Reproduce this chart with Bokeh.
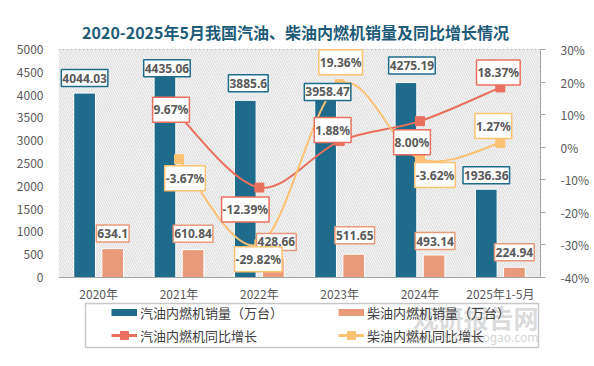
from bokeh.plotting import figure
from bokeh.models import (Range1d, LinearAxis, ColumnDataSource, Label, Legend, LegendItem,
                          FixedTicker, BoxAnnotation, PrintfTickFormatter, Span)
from bokeh.core.properties import value
from bokeh.embed import file_html
from bokeh.resources import INLINE

# ---------------- data ----------------
years = ["2020年", "2021年", "2022年", "2023年", "2024年", "2025年1-5月"]
gasoline_sales = [4044.03, 4435.06, 3885.6, 3958.47, 4275.19, 1936.36]
diesel_sales = [634.1, 610.84, 428.66, 511.65, 493.14, 224.94]
yoy_years = ["2021年", "2022年", "2023年", "2024年", "2025年1-5月"]
gasoline_yoy = [9.67, -12.39, 1.88, 8.00, 18.37]
diesel_yoy = [-3.67, -29.82, 19.36, -3.62, 1.27]
left_ticks = [0, 500, 1000, 1500, 2000, 2500, 3000, 3500, 4000, 4500, 5000]
right_ticks = [-40, -30, -20, -10, 0, 10, 20, 30]
title_text = "2020-2025年5月我国汽油、柴油内燃机销量及同比增长情况"

# ---------------- layout / styles ----------------
W, H = 594, 366
FRAME_L, FRAME_R = 58, 540               # pixel columns of the frame
PLOT_TOP, PLOT_BOTTOM = 49, 277          # pixel rows of the value axes' ends
L_MIN, L_MAX = left_ticks[0], left_ticks[-1]
R_MIN, R_MAX = right_ticks[0], right_ticks[-1]
C_BLUE = "#1F6B8B"
C_ORANGE = "#E99A7A"
C_RED = "#E9705E"
C_YELLOW = "#FDC173"
C_TEXT = "#595959"
FONT = "Noto Sans CJK SC"
BAR_W = 0.27
BAR_SHIFT = 0.175
# label offsets in screen pixels (x right, y up)
blue_dx = [0, 2, 3, 2, 6, 0]
blue_dy = [15, 7, 17, 5, 17, 14]
orange_dx = [0, 0, 3, 1, 1, 0]
orange_dy = [15, 16, 16, 19, 14, 15]
red_dx = [-8, -14, -7, -8, -2]
red_dy = [6, -22, 11, -21, 15]
yel_dx = [6, -1, 1, 15, -7]
yel_dy = [-19, -15, 22, -16, 17]

xi = {y: i for i, y in enumerate(years)}
x_idx = [xi[y] for y in years]
x_yoy = [xi[y] for y in yoy_years]
X_LO, X_HI = -0.5, len(years) - 0.5


def extended(lo, hi):
    ppu = (PLOT_BOTTOM - PLOT_TOP) / (hi - lo)
    return Range1d(lo - (H - PLOT_BOTTOM) / ppu, hi + PLOT_TOP / ppu)


def px_x(px):   # page pixel column -> x data
    return X_LO + (px - FRAME_L) * (X_HI - X_LO) / (FRAME_R - FRAME_L)


def px_y(py):   # page pixel row -> left-axis data
    return L_MIN + (PLOT_BOTTOM - py) * (L_MAX - L_MIN) / (PLOT_BOTTOM - PLOT_TOP)


p = figure(width=W, height=H, x_range=Range1d(X_LO, X_HI), y_range=extended(L_MIN, L_MAX),
           output_backend="svg", toolbar_location=None, x_axis_location=None,
           min_border_left=FRAME_L, min_border_right=W - FRAME_R, min_border_top=0, min_border_bottom=0)
p.extra_y_ranges = {"pct": extended(R_MIN, R_MAX)}
p.xgrid.visible = False
p.ygrid.visible = False
p.outline_line_color = None
p.background_fill_color = "white"
p.border_fill_color = "white"

# hatched plot area
p.add_layout(BoxAnnotation(bottom=L_MIN, top=L_MAX, fill_alpha=0, line_color=None,
                           hatch_pattern="left_diagonal_line", hatch_color="#D4D4D4",
                           hatch_scale=4.5, hatch_weight=1, level="underlay"))
p.add_layout(Span(location=L_MAX, dimension="width", line_color="#BFBFBF", line_dash="2 2", line_width=1))
p.add_layout(Span(location=L_MIN, dimension="width", line_color="#A6A6A6", line_width=1))

# axes
ya = p.yaxis[0]
ya.ticker = FixedTicker(ticks=left_ticks)
ya.axis_line_color = None
ya.major_tick_line_color = None
ya.minor_tick_line_color = None
ya.major_tick_out = 0
ya.major_label_standoff = 15
ya.major_label_text_font = FONT
ya.major_label_text_font_size = "12px"
ya.major_label_text_color = C_TEXT

ra = LinearAxis(y_range_name="pct", ticker=FixedTicker(ticks=right_ticks),
                formatter=PrintfTickFormatter(format="%d%%"), bounds=(R_MIN, R_MAX))
ra.axis_line_color = "#A6A6A6"
ra.major_tick_line_color = "#A6A6A6"
ra.major_tick_out = 5
ra.major_tick_in = 0
ra.minor_tick_line_color = None
ra.major_label_standoff = 15
ra.major_label_text_align = "center"
ra.major_label_text_font = FONT
ra.major_label_text_font_size = "12px"
ra.major_label_text_color = C_TEXT
p.add_layout(ra, "right")

# category labels under the base line
p.text(x=x_idx, y=[L_MIN] * len(x_idx), text=years, y_offset=16, text_align="center",
       text_baseline="middle", text_font=value(FONT), text_font_size="12px", text_color=C_TEXT)

# legend frame (page pixels converted to data units)
p.quad(left=[px_x(85)], right=[px_x(538)], top=[px_y(303)], bottom=[px_y(347)],
       fill_alpha=0, line_color="#C8C8C8", line_width=1.5)

# bars
bsrc = ColumnDataSource(dict(
    xb=[x - BAR_SHIFT for x in x_idx], xo=[x + BAR_SHIFT for x in x_idx],
    gas=gasoline_sales, die=diesel_sales))
p.vbar(x="xb", top="gas", bottom=L_MIN, width=BAR_W, source=bsrc, fill_color=C_BLUE,
       line_color="white", line_width=1)
p.vbar(x="xo", top="die", bottom=L_MIN, width=BAR_W, source=bsrc, fill_color=C_ORANGE,
       line_color="white", line_width=1)


def smooth(xs, ys):
    n = len(xs)
    pts = list(zip(xs, ys))
    out = dict(x0=[], y0=[], x1=[], y1=[], cx0=[], cy0=[], cx1=[], cy1=[])
    for i in range(n - 1):
        p0 = pts[i - 1] if i > 0 else pts[i]
        p1 = pts[i]
        p2 = pts[i + 1]
        p3 = pts[i + 2] if i + 2 < n else pts[i + 1]
        out["x0"].append(p1[0]); out["y0"].append(p1[1])
        out["x1"].append(p2[0]); out["y1"].append(p2[1])
        out["cx0"].append(p1[0] + (p2[0] - p0[0]) / 6); out["cy0"].append(p1[1] + (p2[1] - p0[1]) / 6)
        out["cx1"].append(p2[0] - (p3[0] - p1[0]) / 6); out["cy1"].append(p2[1] - (p3[1] - p1[1]) / 6)
    return ColumnDataSource(out)


for vals, col in ((gasoline_yoy, C_RED), (diesel_yoy, C_YELLOW)):
    p.bezier(x0="x0", y0="y0", x1="x1", y1="y1", cx0="cx0", cy0="cy0", cx1="cx1", cy1="cy1",
             source=smooth(x_yoy, vals), line_color=col, line_width=2, y_range_name="pct")

lsrc = ColumnDataSource(dict(x=x_yoy, g=gasoline_yoy, d=diesel_yoy))
p.scatter(x="x", y="g", source=lsrc, marker="square", size=9, fill_color=C_RED, line_color=C_RED,
          y_range_name="pct")
p.scatter(x="x", y="d", source=lsrc, marker="square", size=9, fill_color=C_YELLOW, line_color=C_YELLOW,
          y_range_name="pct")


def add_labels(xs, ys, texts, dxs, dys, border, yr="default"):
    for x, y, t, dx, dy in zip(xs, ys, texts, dxs, dys):
        p.add_layout(Label(x=x, y=y, text=t, x_offset=dx, y_offset=dy, y_range_name=yr,
                           text_align="center", text_baseline="middle", text_font="Noto Sans",
                           text_font_style="bold", text_font_size="12px", text_color=C_TEXT,
                           background_fill_color="white", border_line_color=border,
                           border_line_width=1.5, padding=(1, 4)))


add_labels(bsrc.data["xb"], gasoline_sales, [f"{v:g}" for v in gasoline_sales], blue_dx, blue_dy, C_BLUE)
add_labels(bsrc.data["xo"], diesel_sales, [f"{v:g}" for v in diesel_sales], orange_dx, orange_dy, C_ORANGE)
add_labels(x_yoy, gasoline_yoy, [f"{v:.2f}%" for v in gasoline_yoy], red_dx, red_dy, C_RED, "pct")
add_labels(x_yoy, diesel_yoy, [f"{v:.2f}%" for v in diesel_yoy], yel_dx, yel_dy, C_YELLOW, "pct")

# title (screen units measured from the frame's bottom-left)
p.add_layout(Label(x=237, y=H - 31, x_units="screen", y_units="screen", text=title_text,
                   text_align="center", text_baseline="middle", text_font=FONT,
                   text_font_style="bold", text_font_size="16px", text_color="#1D5B79"))

# watermark
p.add_layout(Label(x=480, y=H - 316, x_units="screen", y_units="screen", text="观研报告网",
                   text_align="right", text_baseline="middle", text_font=FONT, text_font_style="bold",
                   text_font_size="25px", text_color="#B8B8B8", text_alpha=0.5))
p.add_layout(Label(x=480, y=H - 337, x_units="screen", y_units="screen", text="www.chinabaogao.com",
                   text_align="right", text_baseline="middle", text_font="Noto Sans",
                   text_font_size="12px", text_color="#B8B8B8", text_alpha=0.6))

# legend (renderers carry no visible data; they only supply the legend glyphs)
nan = float("nan")
e = dict(x=[nan], y=[nan])
lg_b = p.line(**e, line_color=C_BLUE, line_width=7)
lg_o = p.line(**e, line_color=C_ORANGE, line_width=7)
lg_r = p.line(**e, line_color=C_RED, line_width=3)
lg_rs = p.scatter(**e, marker="square", size=9, fill_color=C_RED, line_color=C_RED)
lg_y = p.line(**e, line_color=C_YELLOW, line_width=3)
lg_ys = p.scatter(**e, marker="square", size=9, fill_color=C_YELLOW, line_color=C_YELLOW)
legend = Legend(items=[
    LegendItem(label="汽油内燃机销量（万台）", renderers=[lg_b]),
    LegendItem(label="汽油内燃机同比增长", renderers=[lg_r, lg_rs]),
    LegendItem(label="柴油内燃机销量（万台）", renderers=[lg_o]),
    LegendItem(label="柴油内燃机同比增长", renderers=[lg_y, lg_ys]),
], orientation="vertical", ncols=2, location=(53, H - 345), border_line_color=None,
    background_fill_alpha=0, padding=2, margin=0, spacing=3, glyph_width=26, glyph_height=20,
    label_height=20, label_width=195, label_standoff=3, label_text_font=FONT,
    label_text_font_size="13px", label_text_color="#404040")
p.add_layout(legend)

open("out.html", "w").write(file_html(p, INLINE))
